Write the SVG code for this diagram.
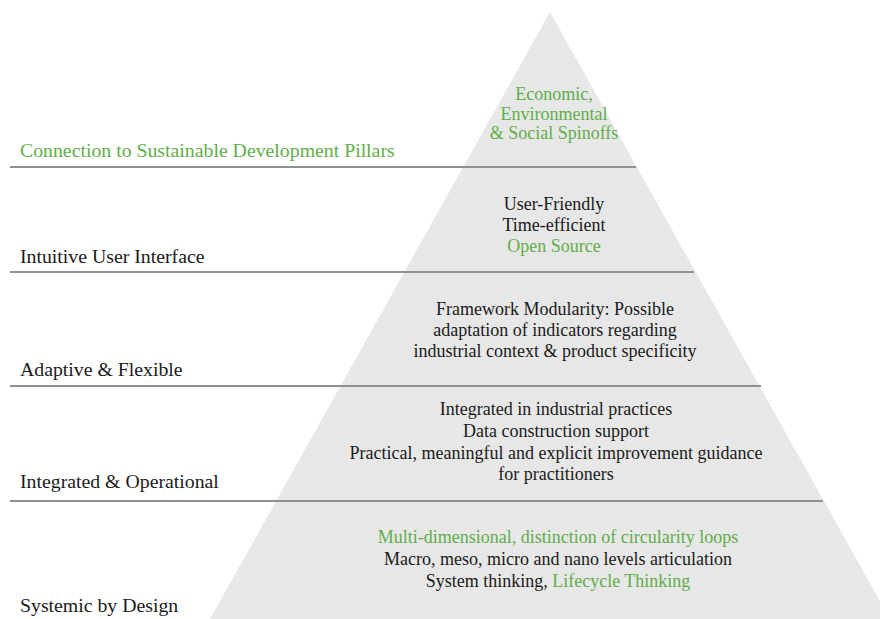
<svg xmlns="http://www.w3.org/2000/svg" width="880" height="619" viewBox="0 0 880 619">
  <style>
    .bg { fill: #ffffff; }
    .pyr { fill: #e7e7e7; }
    .tier { stroke: #909090; stroke-width: 2; fill: none; }
    .lbl { font-family: "Liberation Serif", "Times New Roman", serif; font-size: 19.8px; fill: #1a1a1a; }
    .txt { font-family: "Liberation Serif", "Times New Roman", serif; font-size: 18px; fill: #1a1a1a; text-anchor: middle; }
    .g { fill: #5fae4a; }
  </style>
  <rect class="bg" x="0" y="0" width="880" height="619"/>

  <!-- pyramid body -->
  <g id="pyramid">
    <polygon class="pyr" points="550,12 890,619 210,619"/>
  </g>

  <!-- tier separators -->
  <g id="connectors">
    <line class="tier" x1="10" y1="167" x2="636" y2="167"/>
    <line class="tier" x1="10" y1="272" x2="694" y2="272"/>
    <line class="tier" x1="10" y1="386" x2="761" y2="386"/>
    <line class="tier" x1="10" y1="501" x2="823" y2="501"/>
  </g>

  <!-- tier 1: sustainability pillars -->
  <g id="tier-pillars">
    <text class="lbl g" x="20" y="157">Connection to Sustainable Development Pillars</text>
    <text class="txt g" x="554" y="100">Economic,</text>
    <text class="txt g" x="554" y="120">Environmental</text>
    <text class="txt g" x="554" y="139">&amp; Social Spinoffs</text>
  </g>

  <!-- tier 2: user interface -->
  <g id="tier-interface">
    <text class="lbl" x="20" y="263">Intuitive User Interface</text>
    <text class="txt" x="554" y="210">User-Friendly</text>
    <text class="txt" x="554" y="231">Time-efficient</text>
    <text class="txt g" x="554" y="252">Open Source</text>
  </g>

  <!-- tier 3: adaptive -->
  <g id="tier-adaptive">
    <text class="lbl" x="20" y="376">Adaptive &amp; Flexible</text>
    <text class="txt" x="555" y="315">Framework Modularity: Possible</text>
    <text class="txt" x="555" y="336">adaptation of indicators regarding</text>
    <text class="txt" x="555" y="357">industrial context &amp; product specificity</text>
  </g>

  <!-- tier 4: integrated -->
  <g id="tier-integrated">
    <text class="lbl" x="20" y="488">Integrated &amp; Operational</text>
    <text class="txt" x="556" y="415">Integrated in industrial practices</text>
    <text class="txt" x="556" y="437">Data construction support</text>
    <text class="txt" x="556" y="459">Practical, meaningful and explicit improvement guidance</text>
    <text class="txt" x="556" y="480">for practitioners</text>
  </g>

  <!-- tier 5: systemic -->
  <g id="tier-systemic">
    <text class="lbl" x="20" y="612">Systemic by Design</text>
    <text class="txt g" x="558" y="543">Multi-dimensional, distinction of circularity loops</text>
    <text class="txt" x="558" y="565">Macro, meso, micro and nano levels articulation</text>
    <text class="txt" x="558" y="587">System thinking, <tspan class="g">Lifecycle Thinking</tspan></text>
  </g>
</svg>
